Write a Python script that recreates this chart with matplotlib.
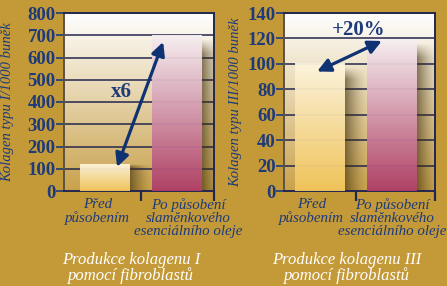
import numpy as np
import matplotlib.pyplot as plt
from matplotlib.colors import LinearSegmentedColormap, to_rgb
from matplotlib.transforms import blended_transform_factory

# Data
categories = ['Před\npůsobením', 'Po působení\nslaměnkového\nesenciálního oleje']
kolagen_1 = [120, 700]
kolagen_3 = [100, 119]
titles = ['Produkce kolagenu I\npomocí fibroblastů', 'Produkce kolagenu III\npomocí fibroblastů']
ylabels = ['Kolagen typu I/1000 buněk', 'Kolagen typu III/1000 buněk']
change_labels = ['x6', '+20%']

bg = '#C49A38'
navy = '#1D3A7A'
grid_c = '#23264E'
plt.rcParams['font.family'] = ['Liberation Serif', 'DejaVu Serif']

fig = plt.figure(figsize=(4.47, 2.86), dpi=100, facecolor=bg)


def vgrad(ax, extent, bottom, top, z, alpha=1.0):
    cmap = LinearSegmentedColormap.from_list('g', [bottom, top])
    img = np.linspace(0, 1, 128).reshape(-1, 1)
    ax.imshow(img, extent=extent, origin='lower', aspect='auto', cmap=cmap,
              zorder=z, alpha=alpha, interpolation='bilinear')


def shadow(ax, x0, width, height):
    # soft dark shade to the right of a bar, fading sideways and at the top
    xs = np.linspace(0, 1, 64)
    ys = np.linspace(0, 1, 64)
    a = 0.6 * (1 - xs[None, :]) ** 1.6 * np.clip(ys[:, None] * 10, 0, 1)
    rgba = np.zeros((64, 64, 4))
    rgba[..., :3] = to_rgb('#3B2C0A')
    rgba[..., 3] = a
    ax.imshow(rgba, extent=[x0, x0 + width, 0, height], origin='upper',
              aspect='auto', zorder=2, interpolation='bilinear')


def panel(rect, values, ymax, step, xlim, ylabel, ylabel_x, title, title_x,
          arrow, change, change_xy, label_shift):
    ax = fig.add_axes(rect)
    x = np.arange(len(values))
    w = 0.69
    vgrad(ax, [xlim[0], xlim[1], 0, ymax], '#C9A24C', '#FFFFFF', 0)
    for yv in np.arange(step, ymax, step):
        ax.axhline(yv, color=grid_c, lw=1.1, zorder=1)
    colors = [('#F2C55A', '#FDF5DE'), ('#AE3C67', '#F6EFF1')]
    for xi, v, (cb, ct) in zip(x, values, colors):
        shadow(ax, xi + w / 2, 0.32, v * 0.98)
        vgrad(ax, [xi - w / 2, xi + w / 2, 0, v], cb, ct, 3, alpha=0.95)
    ax.annotate('', xy=arrow[1], xytext=arrow[0],
                arrowprops=dict(arrowstyle='<|-|>', color='#0E3272', lw=2.3,
                                mutation_scale=20, shrinkA=0, shrinkB=0),
                zorder=6)
    ax.text(change_xy[0], change_xy[1], change, color=navy, fontsize=15,
            fontweight='bold', ha='center', va='center', zorder=6)
    ax.set_xlim(*xlim)
    ax.set_ylim(0, ymax)
    ax.set_yticks(np.arange(0, ymax + 1, step))
    ax.tick_params(axis='y', length=6, width=1.2, color=navy, labelsize=13.5,
                   labelcolor=navy, pad=0)
    for t in ax.get_yticklabels():
        t.set_fontweight('bold')
    ax.set_xticks([])
    ax.set_xticks([0.5, xlim[1]], minor=True)
    ax.tick_params(axis='x', which='minor', length=7, width=1.6, color=grid_c,
                   direction='out')
    for s in ax.spines.values():
        s.set_color(grid_c)
        s.set_linewidth(1.4)
    ax.spines['left'].set_color('#5C5346')
    ax.set_ylabel(ylabel, color=navy, fontsize=10.5, style='italic')
    ax.yaxis.set_label_coords(ylabel_x, 0.5)
    tr = blended_transform_factory(ax.transData, ax.transAxes)
    for xi, lab, sh in zip(x, categories, label_shift):
        ax.text(xi + sh, -0.04, lab, transform=tr, color=navy, fontsize=10.8,
                style='italic', ha='center', va='top', linespacing=0.98)
    fig.text(title_x, 0.063, title, color='white', fontsize=12,
             style='italic', ha='center', va='center', linespacing=0.92)
    return ax


panel([64 / 447, 1 - 191 / 286, 150 / 447, 178 / 286], kolagen_1, 800, 100,
      (-0.57, 1.51), ylabels[0], -0.33, titles[0], 131 / 447,
      ((0.166, 108), (0.805, 670)), change_labels[0], (0.22, 445),
      (-0.11, 0.15))
panel([284 / 447, 1 - 191 / 286, 151 / 447, 178 / 286], kolagen_3, 140, 20,
      (-0.5, 1.6), ylabels[1], -0.28, titles[1], 347 / 447,
      ((-0.04, 94), (0.86, 118)), change_labels[1], (0.54, 127),
      (-0.12, 0.0))

fig.savefig('out.png', dpi=100, facecolor=bg)
